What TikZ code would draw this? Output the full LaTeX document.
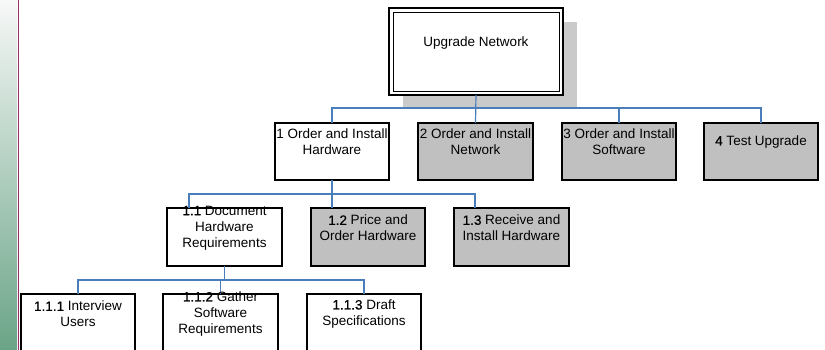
\documentclass[tikz,border=0pt]{standalone}
\usepackage{fontspec}
\setmainfont{Liberation Sans}
\newfontfamily\numfont[FakeBold=0.6]{Liberation Sans}
\definecolor{connblue}{HTML}{4A7EBB}
\definecolor{boxgray}{HTML}{C0C0C0}
\definecolor{shadowgray}{HTML}{CACACA}
\definecolor{stripline}{HTML}{9B2D6E}
\definecolor{striptop}{HTML}{F7F8F7}
\definecolor{stripmid}{HTML}{D8E5DC}
\definecolor{stripbot}{HTML}{6AA487}
\newcommand{\wbsnum}[1]{{\numfont #1}}
\begin{document}
\begin{tikzpicture}[x=1pt,y=-1pt,
  box/.style={draw=black,line width=1.1pt,minimum width=114pt,minimum height=57pt,inner sep=0pt,outer sep=0pt},
  whitebox/.style={box,fill=white},
  greybox/.style={box,fill=boxgray},
  lbl/.style={font=\fontsize{13.5}{16}\selectfont,align=center,inner sep=0pt},
  conn/.style={draw=connblue,line width=1.2pt},
]
\clip (0,0) rectangle (825,350);
\useasboundingbox (0,0) rectangle (825,350);
% left strip
\shade[top color=striptop,middle color=stripmid,bottom color=stripbot] (0,0) rectangle (17,350);
\draw[stripline,line width=1pt] (18,0) -- (18,350);

% top node with shadow
\fill[shadowgray] (403,22) rectangle (577,108);
\node[draw=black,fill=white,line width=1.8pt,minimum width=174pt,minimum height=87pt,inner sep=0pt,outer sep=0pt] (top) at (476,51.5) {};
\draw[black,line width=0.9pt] (393,12) rectangle (559,91);
\node[lbl] (toplbl) at (476,43) {Upgrade Network};

% level 1
\node[whitebox,minimum width=114pt] (b1) at (332,151.5) {};
\node[greybox,minimum width=115pt] (b2) at (475.5,151.5) {};
\node[greybox,minimum width=114pt] (b3) at (619,151.5) {};
\node[greybox,minimum width=114pt] (b4) at (761,151.5) {};

% level 2
\node[whitebox,minimum height=58pt,minimum width=115pt] (b11) at (224.5,237) {};
\node[greybox,minimum height=58pt] (b12) at (368,237) {};
\node[greybox,minimum height=58pt,minimum width=115pt] (b13) at (511.5,237) {};

% level 3
\node[whitebox,minimum height=60pt] (b111) at (78,324) {};
\node[whitebox,minimum height=60pt,minimum width=115pt] (b112) at (220.5,324) {};
\node[whitebox,minimum height=60pt] (b113) at (364,324) {};

% connectors
\coordinate (j0) at (476,108);
\draw[conn] (top.south) -- (b2.north);
\draw[conn] (b1.north) |- (b4.north |- j0) -- (b4.north);
\draw[conn] (b3.north) -- (b3.north |- j0);

\coordinate (j1) at (332,194);
\coordinate (d11) at (189,208);
\coordinate (d13) at (475,208);
\draw[conn] (b1.south) -- (b1.south |- b12.north);
\draw[conn] (d11) |- (d13 |- j1) -- (d13);

\coordinate (j2) at (225,280);
\draw[conn] (b11.south) -- (b11.south |- j2);
\draw[conn] (b111.north) |- (b113.north |- j2) -- (b113.north);
\draw[conn] (b112.north) -- (b112.north |- j2);

% labels
\node[lbl] (l1) at ([yshift=-19pt]b1.north) {1 Order and Install\\Hardware};
\node[lbl] (l2) at ([yshift=-19pt]b2.north) {2 Order and Install\\Network};
\node[lbl] (l3) at ([yshift=-19pt]b3.north) {3 Order and Install\\Software};
\node[lbl] (l4) at ([yshift=-19pt]b4.north) {\wbsnum{4} Test Upgrade};
\node[lbl] (l11) at ([yshift=-20pt]b11.north) {\wbsnum{1.1} Document\\Hardware\\Requirements};
\node[lbl] (l12) at ([yshift=-20pt]b12.north) {\wbsnum{1.2} Price and\\Order Hardware};
\node[lbl] (l13) at ([yshift=-20pt]b13.north) {\wbsnum{1.3} Receive and\\Install Hardware};
\node[lbl] (l111) at ([yshift=-20pt]b111.north) {\wbsnum{1.1.1} Interview\\Users};
\node[lbl] (l112) at ([yshift=-20pt]b112.north) {\wbsnum{1.1.2} Gather\\Software\\Requirements};
\node[lbl] (l113) at ([yshift=-20pt]b113.north) {\wbsnum{1.1.3} Draft\\Specifications};
\end{tikzpicture}
\end{document}
